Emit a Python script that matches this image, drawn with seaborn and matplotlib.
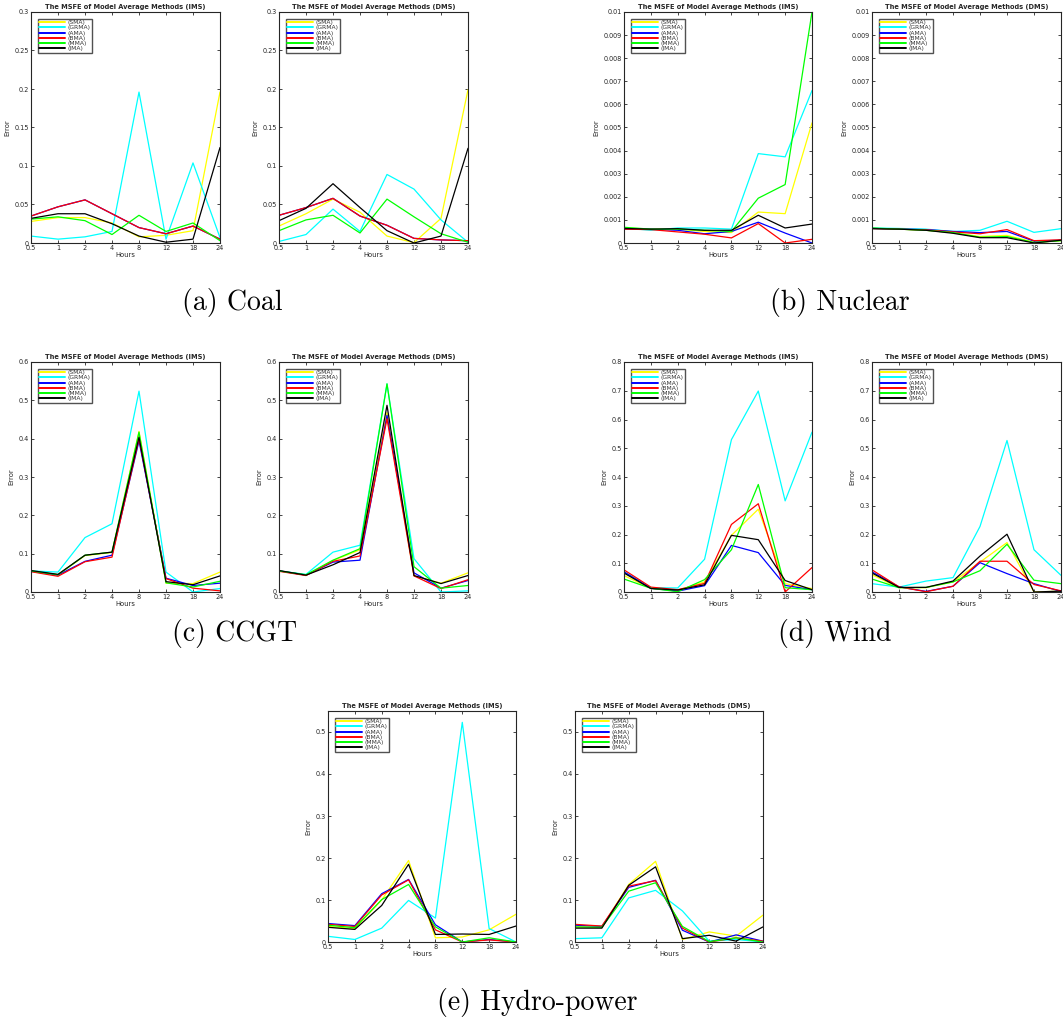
import numpy as np
import pandas as pd
import matplotlib
matplotlib.use("Agg")
import matplotlib.pyplot as plt
import seaborn as sns

# Forecast horizons (hours) and model-average methods
hours = ["0.5", "1", "2", "4", "8", "12", "18", "24"]
methods = ["(SMA)", "(GRMA)", "(AMA)", "(BMA)", "(MMA)", "(JMA)"]
method_colors = ["#ffff00", "#00ffff", "#0000ff", "#ff0000", "#00ff00", "#000000"]

# ---- Coal ----
coal_ims_sma = [0.028, 0.033, 0.033, 0.026, 0.008, 0.010, 0.016, 0.196]
coal_ims_grma = [0.009, 0.005, 0.008, 0.015, 0.196, 0.005, 0.104, 0.007]
coal_ims_ama = [0.035, 0.047, 0.056, 0.038, 0.020, 0.012, 0.022, 0.005]
coal_ims_bma = [0.035, 0.047, 0.056, 0.038, 0.020, 0.012, 0.022, 0.005]
coal_ims_mma = [0.031, 0.034, 0.029, 0.011, 0.036, 0.015, 0.026, 0.003]
coal_ims_jma = [0.032, 0.038, 0.038, 0.025, 0.009, 0.001, 0.005, 0.124]

coal_dms_sma = [0.022, 0.038, 0.057, 0.040, 0.009, 0.0005, 0.032, 0.199]
coal_dms_grma = [0.002, 0.011, 0.044, 0.015, 0.089, 0.070, 0.030, 0.001]
coal_dms_ama = [0.036, 0.046, 0.058, 0.035, 0.023, 0.006, 0.004, 0.003]
coal_dms_bma = [0.036, 0.046, 0.058, 0.035, 0.023, 0.006, 0.004, 0.003]
coal_dms_mma = [0.016, 0.030, 0.036, 0.013, 0.057, 0.034, 0.012, 0.001]
coal_dms_jma = [0.029, 0.045, 0.077, 0.046, 0.016, 0.000, 0.009, 0.123]

# ---- Nuclear ----
nuc_ims_sma = [0.00065, 0.0006, 0.0006, 0.0005, 0.00045, 0.00134, 0.00127, 0.0052]
nuc_ims_grma = [0.00065, 0.00055, 0.00065, 0.00065, 0.0006, 0.00387, 0.00373, 0.0066]
nuc_ims_ama = [0.0006, 0.0006, 0.00055, 0.0004, 0.0005, 0.0009, 0.00043, 0.0]
nuc_ims_bma = [0.0006, 0.00058, 0.00048, 0.00038, 0.00022, 0.00084, 0.0, 0.00016]
nuc_ims_mma = [0.00068, 0.0006, 0.0006, 0.00055, 0.0005, 0.00194, 0.00253, 0.0100]
nuc_ims_jma = [0.00063, 0.0006, 0.00062, 0.00055, 0.00055, 0.0012, 0.00065, 0.00082]

nuc_dms_sma = [0.00063, 0.0006, 0.00055, 0.00045, 0.00028, 0.00033, 0.00003, 0.0001]
nuc_dms_grma = [0.00065, 0.00063, 0.0006, 0.0005, 0.00055, 0.00094, 0.00046, 0.00062]
nuc_dms_ama = [0.00063, 0.0006, 0.00058, 0.0005, 0.00045, 0.0005, 0.00008, 0.00012]
nuc_dms_bma = [0.00063, 0.0006, 0.00057, 0.00048, 0.0004, 0.00058, 0.0001, 0.00014]
nuc_dms_mma = [0.00065, 0.0006, 0.00055, 0.00045, 0.00025, 0.00028, 0.00002, 0.0001]
nuc_dms_jma = [0.00062, 0.0006, 0.00055, 0.00042, 0.00023, 0.00023, 0.0, 0.00012]

# ---- CCGT ----
ccgt_ims_sma = [0.055, 0.045, 0.095, 0.103, 0.419, 0.023, 0.022, 0.052]
ccgt_ims_grma = [0.055, 0.052, 0.142, 0.178, 0.524, 0.052, 0.000, 0.009]
ccgt_ims_ama = [0.054, 0.044, 0.080, 0.096, 0.394, 0.036, 0.017, 0.023]
ccgt_ims_bma = [0.053, 0.041, 0.079, 0.091, 0.400, 0.035, 0.010, 0.003]
ccgt_ims_mma = [0.055, 0.045, 0.096, 0.104, 0.417, 0.024, 0.013, 0.028]
ccgt_ims_jma = [0.056, 0.046, 0.096, 0.104, 0.404, 0.027, 0.019, 0.042]

ccgt_dms_sma = [0.055, 0.044, 0.082, 0.110, 0.468, 0.042, 0.023, 0.050]
ccgt_dms_grma = [0.055, 0.046, 0.104, 0.122, 0.543, 0.087, 0.000, 0.003]
ccgt_dms_ama = [0.055, 0.044, 0.078, 0.083, 0.461, 0.050, 0.010, 0.030]
ccgt_dms_bma = [0.054, 0.043, 0.080, 0.094, 0.452, 0.042, 0.009, 0.032]
ccgt_dms_mma = [0.055, 0.045, 0.083, 0.113, 0.543, 0.066, 0.010, 0.017]
ccgt_dms_jma = [0.056, 0.044, 0.071, 0.103, 0.487, 0.043, 0.022, 0.043]

# ---- Wind ----
wind_ims_sma = [0.057, 0.013, 0.006, 0.035, 0.197, 0.288, 0.029, 0.012]
wind_ims_grma = [0.070, 0.015, 0.014, 0.114, 0.530, 0.699, 0.317, 0.556]
wind_ims_ama = [0.070, 0.013, 0.003, 0.022, 0.162, 0.137, 0.023, 0.008]
wind_ims_bma = [0.077, 0.017, 0.008, 0.030, 0.235, 0.307, 0.000, 0.085]
wind_ims_mma = [0.045, 0.013, 0.001, 0.043, 0.147, 0.374, 0.015, 0.008]
wind_ims_jma = [0.066, 0.012, 0.007, 0.025, 0.197, 0.182, 0.040, 0.008]

wind_dms_sma = [0.060, 0.015, 0.015, 0.035, 0.104, 0.172, 0.000, 0.003]
wind_dms_grma = [0.029, 0.017, 0.038, 0.050, 0.228, 0.527, 0.147, 0.058]
wind_dms_ama = [0.070, 0.018, 0.002, 0.020, 0.102, 0.064, 0.029, 0.002]
wind_dms_bma = [0.077, 0.018, 0.001, 0.020, 0.107, 0.107, 0.026, 0.004]
wind_dms_mma = [0.045, 0.015, 0.016, 0.035, 0.074, 0.166, 0.041, 0.029]
wind_dms_jma = [0.066, 0.016, 0.016, 0.038, 0.125, 0.201, 0.000, 0.003]

# ---- Hydro-power ----
hydro_ims_sma = [0.037, 0.032, 0.100, 0.194, 0.010, 0.012, 0.029, 0.066]
hydro_ims_grma = [0.0135, 0.006, 0.033, 0.099, 0.057, 0.523, 0.032, 0.000]
hydro_ims_ama = [0.044, 0.039, 0.115, 0.149, 0.041, 0.000, 0.006, 0.000]
hydro_ims_bma = [0.042, 0.037, 0.112, 0.148, 0.029, 0.000, 0.005, 0.000]
hydro_ims_mma = [0.040, 0.034, 0.101, 0.137, 0.036, 0.000, 0.010, 0.000]
hydro_ims_jma = [0.035, 0.030, 0.087, 0.185, 0.018, 0.019, 0.018, 0.038]

hydro_dms_sma = [0.036, 0.035, 0.137, 0.192, 0.006, 0.024, 0.014, 0.064]
hydro_dms_grma = [0.008, 0.010, 0.105, 0.123, 0.074, 0.002, 0.006, 0.000]
hydro_dms_ama = [0.040, 0.037, 0.130, 0.147, 0.028, 0.000, 0.017, 0.002]
hydro_dms_bma = [0.042, 0.038, 0.133, 0.146, 0.033, 0.000, 0.010, 0.002]
hydro_dms_mma = [0.036, 0.035, 0.121, 0.141, 0.037, 0.001, 0.010, 0.000]
hydro_dms_jma = [0.033, 0.033, 0.135, 0.179, 0.008, 0.016, 0.002, 0.036]

W, H = 1063, 1022
sns.set_theme(style="white")
plt.rcParams["font.family"] = ["DejaVu Sans"]
fig = plt.figure(figsize=(W / 100, H / 100), dpi=100)

AX_COLOR = "#262626"


def rect(x0, y0, x1, y1):
    return [x0 / W, 1 - y1 / H, (x1 - x0) / W, (y1 - y0) / H]


def panel(box, series, title, ymax, yticks, ylabels):
    ax = fig.add_axes(rect(*box))
    rows = []
    for name, vals in zip(methods, series):
        for i, v in enumerate(vals):
            rows.append({"pos": i, "err": v, "method": name})
    df = pd.DataFrame(rows)
    sns.lineplot(data=df, x="pos", y="err", hue="method", hue_order=methods,
                 palette=method_colors, linewidth=0.9, ax=ax, legend=False)
    ax.set_xlim(0, len(hours) - 1)
    ax.set_ylim(0, ymax)
    ax.set_xticks(range(len(hours)))
    ax.set_xticklabels(hours)
    ax.set_yticks(yticks)
    ax.set_yticklabels(ylabels)
    ax.tick_params(direction="in", length=2.5, width=0.6, labelsize=4.7,
                   colors=AX_COLOR, top=True, right=True, bottom=True, left=True,
                   pad=1.5)
    for s in ax.spines.values():
        s.set_color(AX_COLOR)
        s.set_linewidth(0.8)
    ax.set_xlabel("Hours", fontsize=4.9, color=AX_COLOR, labelpad=0.5)
    ax.set_ylabel("Error", fontsize=4.9, color=AX_COLOR, labelpad=3)
    ax.set_title(title, fontsize=4.8, fontweight="bold", pad=2.5)
    handles = [plt.Line2D([], [], color=c, lw=1.4) for c in method_colors]
    leg = ax.legend(handles, methods, loc="upper left", fontsize=4.3,
                    frameon=True, fancybox=False, edgecolor=AX_COLOR,
                    handlelength=4.4, handletextpad=0.4, labelspacing=0.0,
                    borderpad=0.25, borderaxespad=1.1)
    leg.get_frame().set_linewidth(1.0)
    for t in leg.get_texts():
        t.set_color("#333333")
    return ax


T_IMS = "The MSFE of Model Average Methods (IMS)"
T_DMS = "The MSFE of Model Average Methods (DMS)"

coal_t = [0, 0.05, 0.1, 0.15, 0.2, 0.25, 0.3]
coal_l = ["0", "0.05", "0.1", "0.15", "0.2", "0.25", "0.3"]
nuc_t = [i / 1000 for i in range(11)]
nuc_l = ["0"] + ["0.%03d" % i for i in range(1, 10)] + ["0.01"]
ccgt_t = [i / 10 for i in range(7)]
ccgt_l = ["0"] + ["0.%d" % i for i in range(1, 7)]
wind_t = [i / 10 for i in range(9)]
wind_l = ["0"] + ["0.%d" % i for i in range(1, 9)]
hyd_t = [i / 10 for i in range(6)]
hyd_l = ["0"] + ["0.%d" % i for i in range(1, 6)]

panel((31, 12, 220, 243),
      [coal_ims_sma, coal_ims_grma, coal_ims_ama, coal_ims_bma, coal_ims_mma, coal_ims_jma],
      T_IMS, 0.3, coal_t, coal_l)
panel((279, 12, 468, 243),
      [coal_dms_sma, coal_dms_grma, coal_dms_ama, coal_dms_bma, coal_dms_mma, coal_dms_jma],
      T_DMS, 0.3, coal_t, coal_l)
panel((624, 12, 812, 243),
      [nuc_ims_sma, nuc_ims_grma, nuc_ims_ama, nuc_ims_bma, nuc_ims_mma, nuc_ims_jma],
      T_IMS, 0.01, nuc_t, nuc_l)
panel((872, 12, 1061, 243),
      [nuc_dms_sma, nuc_dms_grma, nuc_dms_ama, nuc_dms_bma, nuc_dms_mma, nuc_dms_jma],
      T_DMS, 0.01, nuc_t, nuc_l)

panel((31, 362, 220, 592),
      [ccgt_ims_sma, ccgt_ims_grma, ccgt_ims_ama, ccgt_ims_bma, ccgt_ims_mma, ccgt_ims_jma],
      T_IMS, 0.6, ccgt_t, ccgt_l)
panel((279, 362, 468, 592),
      [ccgt_dms_sma, ccgt_dms_grma, ccgt_dms_ama, ccgt_dms_bma, ccgt_dms_mma, ccgt_dms_jma],
      T_DMS, 0.6, ccgt_t, ccgt_l)
panel((624, 362, 812, 592),
      [wind_ims_sma, wind_ims_grma, wind_ims_ama, wind_ims_bma, wind_ims_mma, wind_ims_jma],
      T_IMS, 0.8, wind_t, wind_l)
panel((872, 362, 1061, 592),
      [wind_dms_sma, wind_dms_grma, wind_dms_ama, wind_dms_bma, wind_dms_mma, wind_dms_jma],
      T_DMS, 0.8, wind_t, wind_l)

panel((328, 711, 516, 942),
      [hydro_ims_sma, hydro_ims_grma, hydro_ims_ama, hydro_ims_bma, hydro_ims_mma, hydro_ims_jma],
      T_IMS, 0.55, hyd_t, hyd_l)
panel((575, 711, 763, 942),
      [hydro_dms_sma, hydro_dms_grma, hydro_dms_ama, hydro_dms_bma, hydro_dms_mma, hydro_dms_jma],
      T_DMS, 0.55, hyd_t, hyd_l)

# Sub-figure captions
captions = ["(a) Coal", "(b) Nuclear", "(c) CCGT", "(d) Wind", "(e) Hydro-power"]
cap_pos = [(232, 302), (840, 302), (235, 633), (835, 633), (537, 1002)]
for txt, (cx, cy) in zip(captions, cap_pos):
    fig.text(cx / W, 1 - cy / H, txt, ha="center", va="center",
             fontsize=20, family=["cmr10", "DejaVu Serif"], color="black")

fig.savefig("out.png", dpi=100, facecolor="white")
